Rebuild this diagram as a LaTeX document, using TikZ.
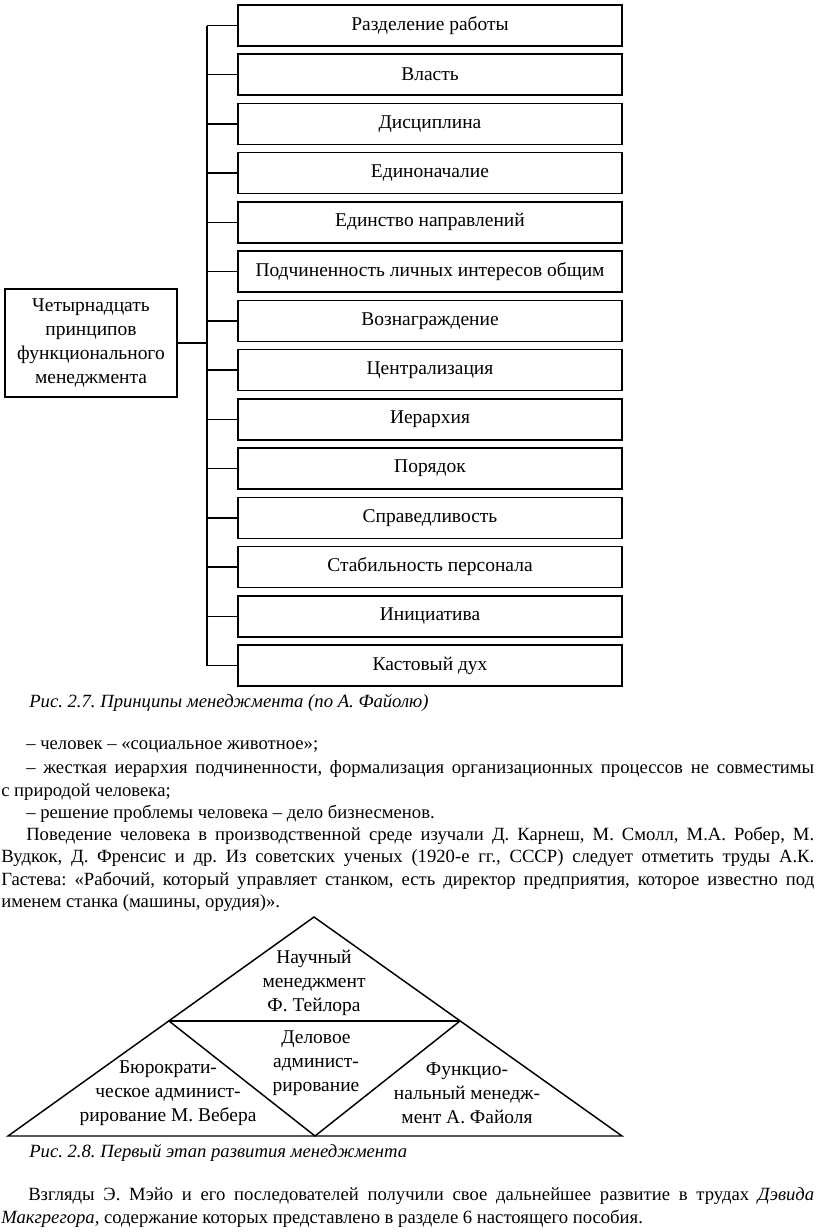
\documentclass[tikz,border=0pt]{standalone}
\usepackage{fontspec}
\setmainfont{Liberation Serif}
\frenchspacing
\newcommand\boxfont{\fontsize{14.6}{18}\selectfont}
\newcommand\bodyfont{\fontsize{14}{16}\selectfont}
\newcommand\jst[2]{\makebox[#1][s]{#2}}
\begin{document}
\begin{tikzpicture}[x=0.75pt,y=-0.75pt,
  pbox/.style={draw,line width=1.1pt,minimum width=288pt,minimum height=30.75pt,inner sep=0pt,font=\boxfont},
  conn/.style={line width=1.1pt},
  txt/.style={anchor=west,inner sep=0pt,font=\bodyfont},
  tri/.style={align=center,inner sep=0pt,font=\boxfont}]
\useasboundingbox (0,0) rectangle (816,1232);
% principle boxes
\node[pbox] (b1) at (430,25.5) {Разделение работы};
\node[pbox] (b2) at (430,74.7) {Власть};
\node[pbox] (b3) at (430,124.0) {Дисциплина};
\node[pbox] (b4) at (430,173.2) {Единоначалие};
\node[pbox] (b5) at (430,222.4) {Единство направлений};
\node[pbox] (b6) at (430,271.7) {Подчиненность личных интересов общим};
\node[pbox] (b7) at (430,320.9) {Вознаграждение};
\node[pbox] (b8) at (430,370.1) {Централизация};
\node[pbox] (b9) at (430,419.3) {Иерархия};
\node[pbox] (b10) at (430,468.6) {Порядок};
\node[pbox] (b11) at (430,517.8) {Справедливость};
\node[pbox] (b12) at (430,567.0) {Стабильность персонала};
\node[pbox] (b13) at (430,616.3) {Инициатива};
\node[pbox] (b14) at (430,665.5) {Кастовый дух};
\node[draw,line width=1.1pt,minimum width=129pt,minimum height=81pt,inner sep=0pt,align=center,font=\boxfont] (main) at (91,343)
  {Четырнадцать\\принципов\\функционального\\менеджмента};
\coordinate (trunk) at (207,0);
\draw[conn] (b1.west -| trunk) -- (b14.west -| trunk);
\foreach \i in {1,...,14} {\draw[conn] (b\i.west) -- (b\i.west -| trunk);}
\draw[conn] (main.east) -- (main.east -| trunk);
% caption 2.7
\node[txt] (cap1) at (29,703) {\itshape Рис. 2.7. Принципы менеджмента (по А. Файолю)};
% text
\node[txt] (t1) at (26,747) {– человек – «социальное животное»;};
\node[txt] (t2) at (26,769) {\jst{591pt}{– жесткая иерархия подчиненности, формализация организационных процессов не совместимы}};
\node[txt] (t3) at (1,792) {с природой человека;};
\node[txt] (t4) at (26,814) {– решение проблемы человека – дело бизнесменов.};
\node[txt] (t5) at (26,836) {\jst{591pt}{Поведение человека в производственной среде изучали Д. Карнеш, М. Смолл, М.А. Робер, М.}};
\node[txt] (t6) at (1,858) {\jst{609.75pt}{Вудкок, Д. Френсис и др. Из советских ученых (1920-е гг., СССР) следует отметить труды А.К.}};
\node[txt] (t7) at (1,881) {\jst{609.75pt}{Гастева: «Рабочий, который управляет станком, есть директор предприятия, которое известно под}};
\node[txt] (t8) at (1,903) {именем станка (машины, орудия)».};
% triangle
\coordinate (A) at (314,917);
\coordinate (L) at (8,1136);
\coordinate (R) at (622,1136);
\coordinate (ML) at (169,1021);
\coordinate (MR) at (460,1021);
\coordinate (B) at (315,1136);
\draw[conn] (L) -- (A) -- (R) -- cycle;
\draw[conn] (ML) -- (MR);
\draw[conn] (ML) -- (B) -- (MR);
\node[tri] (p1) at (314,983) {Научный\\менеджмент\\Ф. Тейлора};
\node[tri] (p2) at (316,1063) {Деловое\\админист-\\рирование};
\node[tri] (p3) at (168,1093) {Бюрократи-\\ческое админист-\\рирование М. Вебера};
\node[tri] (p4) at (467,1093) {Функцио-\\нальный менедж-\\мент А. Файоля};
% caption 2.8
\node[txt] (cap2) at (29,1153) {\itshape Рис. 2.8. Первый этап развития менеджмента};
\node[txt] (t9) at (28,1196) {\jst{589.5pt}{Взгляды Э. Мэйо и его последователей получили свое дальнейшее развитие в трудах \textit{Дэвида}}};
\node[txt] (t10) at (1,1219) {\textit{Макгрегора,} содержание которых представлено в разделе 6 настоящего пособия.};
\end{tikzpicture}
\end{document}
